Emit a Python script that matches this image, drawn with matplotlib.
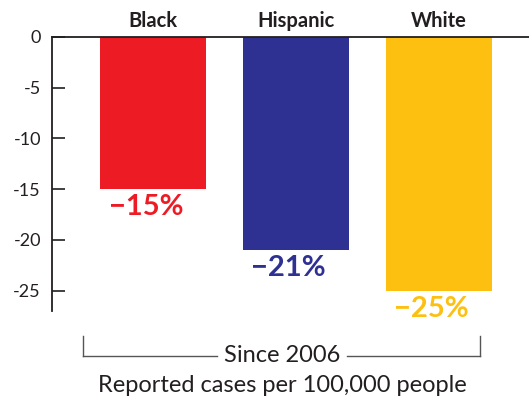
import numpy as np
import matplotlib.pyplot as plt

# 数値は画像から読み取り
groups = ["Black", "Hispanic", "White"]
change = [-15, -21, -25]
labels = ["\u221215%", "\u221221%", "\u221225%"]
colors = ["#ED1C24", "#2E3192", "#FDC010"]
yticks = [0, -5, -10, -15, -20, -25]

plt.rcParams['font.family'] = ['Lato', 'DejaVu Sans']
txt = "#231F20"

fig = plt.figure(figsize=(5.29, 4.00), dpi=100)
ax = fig.add_axes([52/529, 1-311/400, 1-52/529, (311-37)/400])

x = np.arange(len(groups))
ax.bar(x, change, width=0.74, color=colors)

ax.set_xlim(-0.706, 2.63)
ax.set_ylim(-27, 0)

# 棒の下に変化率
for xi, v, lab, c in zip(x, change, labels, colors):
    ax.text(xi - 0.05, v - 0.5, lab, ha="center", va="top", color=c,
            fontsize=21, fontweight="bold")

# 上部のカテゴリ名
for xi, g in zip(x, groups):
    ax.text(xi, 0.6, g, ha="center", va="bottom", color=txt,
            fontsize=14.5, fontweight="bold")

ax.spines["right"].set_visible(False)
ax.spines["bottom"].set_visible(False)
for s in ["left", "top"]:
    ax.spines[s].set_linewidth(1.3)
    ax.spines[s].set_color(txt)

ax.set_xticks([])
ax.set_yticks(yticks)
ax.set_yticklabels([str(t) for t in yticks])
ax.tick_params(axis="y", direction="in", length=9, width=1.2, color=txt,
               labelsize=13, labelcolor=txt)
ax.yaxis.set_tick_params(pad=8)

# 下のブラケット
ln = dict(color="#555555", lw=1.0, transform=fig.transFigure, clip_on=False)
yb = 1 - 356/400
yt = 1 - 336/400
fig.add_artist(plt.Line2D([83/529, 83/529], [yt, yb], **ln))
fig.add_artist(plt.Line2D([480/529, 480/529], [yt, yb], **ln))
fig.add_artist(plt.Line2D([83/529, 217/529], [yb, yb], **ln))
fig.add_artist(plt.Line2D([347/529, 480/529], [yb, yb], **ln))
fig.text(282/529, yb, "Since 2006", ha="center", va="center",
         fontsize=17, color=txt)
fig.text(282/529, 1 - 386/400, "Reported cases per 100,000 people",
         ha="center", va="center", fontsize=17, color=txt)

fig.savefig("out.png", dpi=100)
